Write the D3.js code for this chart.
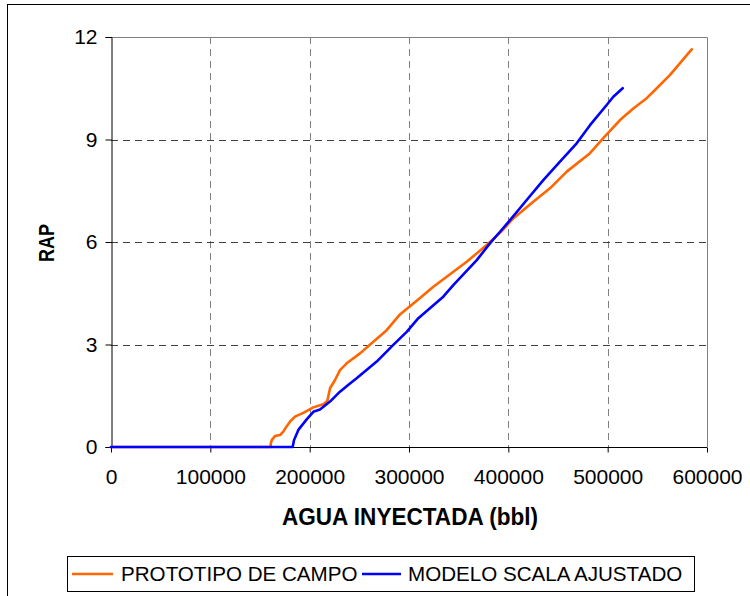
<!DOCTYPE html>
<html>
<head>
<meta charset="utf-8">
<script src="https://cdn.jsdelivr.net/npm/d3@7"></script>
<style>
  html, body { margin: 0; padding: 0; background: #fff; }
  svg { display: block; }
  text { font-family: "Liberation Sans", Arial, sans-serif; fill: #000; }
</style>
</head>
<body>
<svg id="chart" width="750" height="596"></svg>
<script>
// Injected water (bbl) vs. RAP for the field prototype and the adjusted scaled model
const campoAgua = [0, 160800, 160800, 161800, 165100, 170100, 173500, 176900, 180200, 185200,
  193600, 203700, 213700, 217800, 220500, 225500, 230500, 237300, 250700, 264100, 277500,
  290900, 311100, 324500, 358100, 378200, 391600, 405000, 425100, 441900, 458800, 482200,
  495600, 512400, 525800, 539300, 549400, 562800, 584600];
const campoRap = [0, 0, 0.09, 0.20, 0.32, 0.35, 0.45, 0.61, 0.74, 0.89,
  1.00, 1.16, 1.25, 1.35, 1.72, 1.96, 2.25, 2.45, 2.74, 3.08, 3.42,
  3.88, 4.36, 4.69, 5.42, 5.91, 6.27, 6.69, 7.18, 7.57, 8.06, 8.60,
  9.04, 9.57, 9.91, 10.21, 10.50, 10.89, 11.64];

const modeloAgua = [0, 182900, 184200, 188600, 197000, 203700, 210400, 220500, 230500, 240600,
  247300, 267500, 284200, 297700, 309400, 334500, 344600, 368200, 381500, 391600, 401700,
  418500, 435200, 452000, 468800, 482200, 499000, 505700, 515100];
const modeloRap = [0, 0, 0.20, 0.50, 0.81, 1.03, 1.10, 1.33, 1.62, 1.86,
  2.01, 2.50, 2.99, 3.37, 3.77, 4.40, 4.74, 5.47, 5.96, 6.30, 6.64,
  7.23, 7.81, 8.35, 8.89, 9.42, 10.01, 10.25, 10.50];

const xTicks = [0, 100000, 200000, 300000, 400000, 500000, 600000];
const yTicks = [0, 3, 6, 9, 12];
const seriesNames = ["PROTOTIPO DE CAMPO", "MODELO SCALA AJUSTADO"];
const seriesColors = ["#FF6600", "#0000FF"];

const svg = d3.select("#chart");

// Outer chart frame
svg.append("rect")
  .attr("x", 7.5).attr("y", 4.5)
  .attr("width", 800).attr("height", 700)
  .attr("fill", "none").attr("stroke", "#000").attr("stroke-width", 1);

const plot = { left: 111, right: 707, top: 37, bottom: 447 };

const x = d3.scaleLinear().domain([0, 600000]).range([plot.left, plot.right]);
const y = d3.scaleLinear().domain([0, 12]).range([plot.bottom, plot.top]);

// Gridlines
const grid = svg.append("g");
grid.selectAll("line.v").data(xTicks.slice(1, -1)).join("line")
  .attr("x1", d => Math.round(x(d)) + 0.5).attr("x2", d => Math.round(x(d)) + 0.5)
  .attr("y1", plot.top).attr("y2", plot.bottom)
  .attr("stroke", "#808080").attr("stroke-dasharray", "7,5");
grid.selectAll("line.h").data(yTicks.slice(1, -1)).join("line")
  .attr("x1", plot.left).attr("x2", plot.right)
  .attr("y1", d => Math.round(y(d)) + 0.5).attr("y2", d => Math.round(y(d)) + 0.5)
  .attr("stroke", "#404040").attr("stroke-dasharray", "7,5");

// Top and right plot border
svg.append("path")
  .attr("d", `M${plot.left},${plot.top + 0.5}H${plot.right + 0.5}V${plot.bottom}`)
  .attr("fill", "none").attr("stroke", "#808080").attr("stroke-width", 1);

// Axes
const xAxis = d3.axisBottom(x).tickValues(xTicks).tickFormat(d3.format("d")).tickSizeOuter(0).tickSize(5).tickPadding(17);
const yAxis = d3.axisLeft(y).tickValues(yTicks).tickFormat(d3.format("d")).tickSizeOuter(0).tickSize(6).tickPadding(8);

const gx = svg.append("g").attr("transform", `translate(0,${plot.bottom + 0.5})`).call(xAxis);
const gy = svg.append("g").attr("transform", `translate(${plot.left + 0.5},0)`).call(yAxis);
[gx, gy].forEach(g => {
  g.select(".domain").attr("stroke", "#000");
  g.selectAll(".tick line").attr("stroke", "#000");
  g.selectAll(".tick text").attr("font-size", 21).attr("font-family", "Liberation Sans, Arial, sans-serif").attr("fill", "#000");
});
gx.select(".domain").attr("d", `M${plot.left},0H${plot.right}`);

// Series lines
const line = d3.line().x(d => x(d[0])).y(d => y(d[1]));
const series = [
  d3.zip(campoAgua, campoRap),
  d3.zip(modeloAgua, modeloRap)
];
series.forEach((pts, i) => {
  svg.append("path")
    .datum(pts)
    .attr("d", line)
    .attr("fill", "none")
    .attr("stroke", seriesColors[i])
    .attr("stroke-width", 2.6)
    .attr("stroke-linejoin", "round")
    .attr("stroke-linecap", "round");
});

// Axis titles
svg.append("text")
  .attr("x", 410).attr("y", 525)
  .attr("text-anchor", "middle")
  .attr("font-size", 23).attr("font-weight", "bold")
  .attr("textLength", 256).attr("lengthAdjust", "spacingAndGlyphs")
  .text("AGUA INYECTADA (bbl)");

svg.append("text")
  .attr("transform", "translate(54,243) rotate(-90)")
  .attr("text-anchor", "middle")
  .attr("font-size", 22).attr("font-weight", "bold")
  .attr("textLength", 38).attr("lengthAdjust", "spacingAndGlyphs")
  .text("RAP");

// Legend
const legend = svg.append("g");
legend.append("rect")
  .attr("x", 67.5).attr("y", 556.5).attr("width", 627).attr("height", 35)
  .attr("fill", "#fff").attr("stroke", "#000").attr("stroke-width", 1);
const legendItems = [
  { sx: 72, ex: 113, tx: 121 },
  { sx: 362, ex: 401, tx: 408 }
];
legendItems.forEach((it, i) => {
  legend.append("line")
    .attr("x1", it.sx).attr("x2", it.ex)
    .attr("y1", 574).attr("y2", 574)
    .attr("stroke", seriesColors[i]).attr("stroke-width", 2.6);
  legend.append("text")
    .attr("x", it.tx).attr("y", 581)
    .attr("font-size", 20.6)
    .text(seriesNames[i]);
});
</script>
</body>
</html>
